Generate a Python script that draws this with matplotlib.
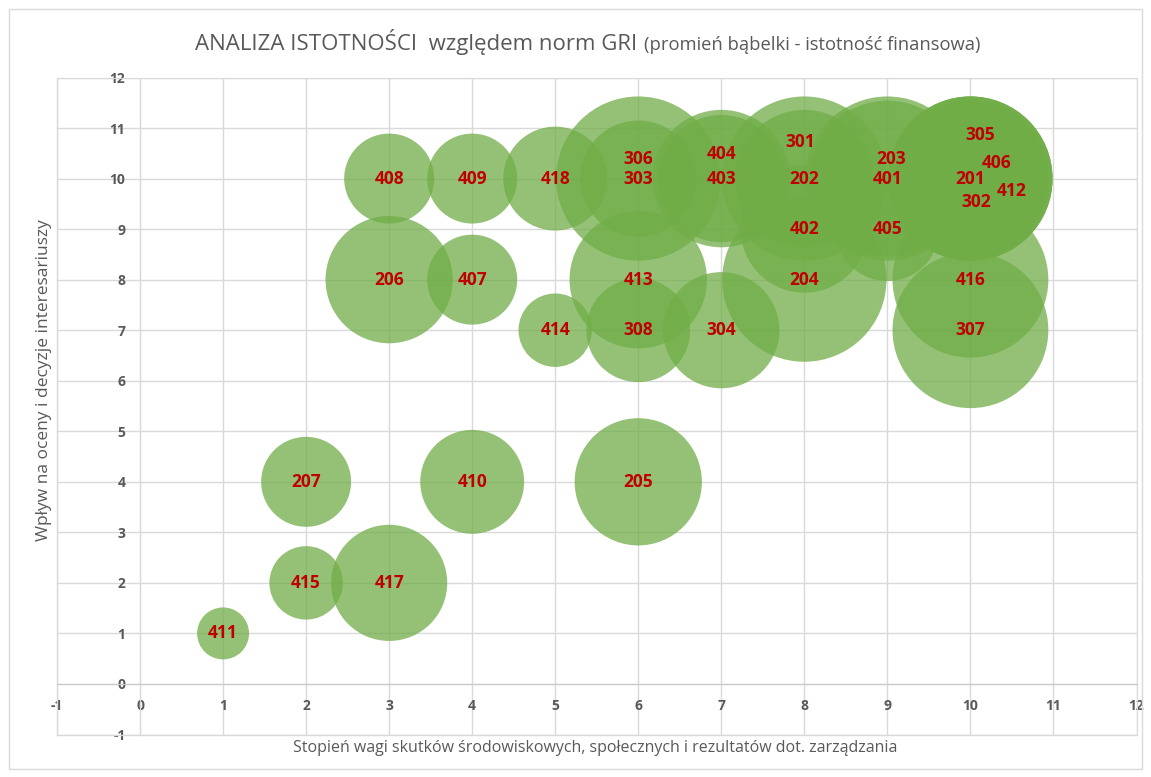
import matplotlib
matplotlib.use("Agg")
import matplotlib.pyplot as plt
from matplotlib.patches import Rectangle

plt.rcParams["axes.unicode_minus"] = False

# GRI disclosures: x = weight of impacts, y = stakeholder influence,
# size = financial materiality (bubble area)
codes = ["411", "415", "417", "207", "410", "205", "206", "407", "408", "409",
         "418", "414", "308", "413", "304", "204", "306", "303", "404", "403",
         "301", "202", "402", "203", "401", "405", "305", "406", "201", "412",
         "302", "416", "307"]
skutki = [1, 2, 3, 2, 4, 6, 3, 4, 3, 4,
          5, 5, 6, 6, 7, 8, 6, 6, 7, 7,
          8, 8, 8, 9, 9, 9, 10, 10, 10, 10,
          10, 10, 10]
wplyw = [1, 2, 2, 4, 4, 4, 8, 8, 10, 10,
         10, 7, 7, 8, 7, 8, 10, 10, 10, 10,
         10, 10, 9, 10, 10, 9, 10, 10, 10, 10,
         10, 8, 7]
finansowa = [1, 2, 5, 3, 4, 6, 6, 3, 3, 3,
             4, 2, 4, 7, 5, 10, 10, 5, 7, 6,
             10, 7, 6, 10, 9, 4, 10, 10, 9, 9,
             10, 9, 9]

x_ticks = list(range(-1, 13))
y_ticks = list(range(-1, 13))

# hand-moved labels where several bubbles share one point (pixels: right, up)
label_nudge = {"306": (0, 20), "404": (0, 25), "301": (-4, 37), "203": (4, 20),
               "305": (10, 44), "406": (26, 16), "412": (41, -12), "302": (6, -23)}

GREEN = "#70AD47"
LABEL_RED = "#C00000"
GRID = "#D9D9D9"
TEXT = "#595959"
FONT = ["Open Sans", "DejaVu Sans"]

W, H, DPI = 1151, 777, 100
fig = plt.figure(figsize=(W / DPI, H / DPI), dpi=DPI, facecolor="white")
ax = fig.add_axes([57 / W, 1 - 734.5 / H, (1136.5 - 57) / W, (734.5 - 77.5) / H])

ax.set_xlim(-1, 12)
ax.set_ylim(-1, 12)
ax.set_xticks(x_ticks)
ax.set_yticks(y_ticks)
ax.grid(True, color=GRID, linewidth=1.0, zorder=0)
ax.set_axisbelow(True)

for side in ("top", "right"):
    ax.spines[side].set_color(GRID)
ax.spines["left"].set_position(("data", 0))
ax.spines["bottom"].set_position(("data", 0))
ax.spines["left"].set_color(GRID)
ax.spines["bottom"].set_color("#C8C8C8")
ax.axvline(-1, color=GRID, linewidth=1.0, clip_on=False)
ax.axhline(-1, color=GRID, linewidth=1.0, clip_on=False)

ax.tick_params(length=0, pad=10.5, labelsize=10, labelcolor=TEXT)
for lab in ax.get_xticklabels() + ax.get_yticklabels():
    lab.set_fontweight("bold")
    lab.set_family(FONT)

# largest bubble: diameter = 25% of plot height, area scales with value
plot_h_pt = (734.5 - 77.5) * 72 / DPI
d_max = 0.25 * plot_h_pt
sizes = [d_max ** 2 * v / max(finansowa) for v in finansowa]
ax.scatter(skutki, wplyw, s=sizes, color=GREEN, alpha=0.75,
           linewidths=0, zorder=2)

for code, xv, yv in zip(codes, skutki, wplyw):
    dx, dy = label_nudge.get(code, (0, 0))
    ax.annotate(code, (xv, yv), xytext=(dx * 0.72, dy * 0.72),
                textcoords="offset points", ha="center", va="center",
                color=LABEL_RED, fontsize=12.5, fontweight="bold",
                family=FONT, zorder=3)

# title in two sizes, centred as one line
title_main = "ANALIZA ISTOTNOŚCI  względem norm GRI"
title_sub = "(promień bąbelki - istotność finansowa)"
ty = 1 - 50 / H
t1 = fig.text(0, ty, title_main, fontsize=16, color=TEXT, family=FONT,
              va="baseline")
t2 = fig.text(0, ty, title_sub, fontsize=13.2, color=TEXT, family=FONT,
              va="baseline")
renderer = fig.canvas.get_renderer()
w1 = t1.get_window_extent(renderer).width
w2 = t2.get_window_extent(renderer).width
gap = 7
x0 = 587.5 - (w1 + gap + w2) / 2
t1.set_x(x0 / W)
t2.set_x((x0 + w1 + gap) / W)

fig.text(595 / W, 1 - 748 / H,
         "Stopień wagi skutków środowiskowych, społecznych i rezultatów dot. zarządzania",
         fontsize=11.5, color=TEXT, family=FONT, ha="center", va="center")
fig.text(44 / W, 1 - 380 / H, "Wpływ na oceny i decyzje interesariuszy",
         fontsize=12.5, color=TEXT, family=FONT, ha="center", va="center",
         rotation=90)

fig.patches.append(Rectangle((9 / W, 1 - 769 / H), (1142 - 9) / W, (769 - 9) / H,
                             transform=fig.transFigure, fill=False,
                             edgecolor=GRID, linewidth=1.0))

fig.savefig("out.png", dpi=DPI, facecolor="white")
